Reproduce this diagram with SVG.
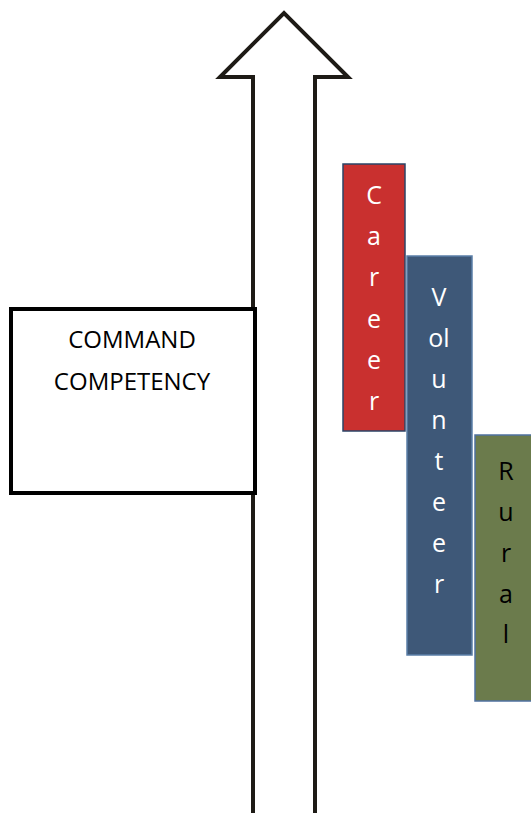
<svg xmlns="http://www.w3.org/2000/svg" width="531" height="813" viewBox="0 0 531 813">
<style>
.lbl{font-family:"Open Sans","Liberation Sans",sans-serif;text-anchor:middle}
.big{font-size:24px}
.bar{font-size:25px}
.w{fill:#ffffff}
.k{fill:#000000}
</style>
<rect width="531" height="813" fill="#ffffff"/>
<g id="connectors">
<path id="arrow" d="M253,815 L253,77 L220,77 L284,13 L348,77 L315,77 L315,815" fill="#ffffff" stroke="#1e1b16" stroke-width="4" stroke-linejoin="miter"/>
</g>
<g id="command">
<rect x="11" y="309" width="244" height="184" fill="#ffffff" stroke="#000000" stroke-width="4"/>
<text class="lbl big k" x="132" y="348">COMMAND</text>
<text class="lbl big k" x="132" y="390">COMPETENCY</text>
</g>
<g id="career">
<rect x="343" y="164" width="62" height="267" fill="#c9302f" stroke="#2b4467" stroke-width="1.5"/>
<text class="lbl bar w" x="374" y="204">C</text>
<text class="lbl bar w" x="374" y="245">a</text>
<text class="lbl bar w" x="374" y="286">r</text>
<text class="lbl bar w" x="374" y="328">e</text>
<text class="lbl bar w" x="374" y="369">e</text>
<text class="lbl bar w" x="374" y="410">r</text>
</g>
<g id="volunteer">
<rect x="407" y="256" width="65" height="399" fill="#3e5878" stroke="#5b7fa8" stroke-width="1.5"/>
<text class="lbl bar w" x="439" y="306">V</text>
<text class="lbl bar w" x="439" y="347">ol</text>
<text class="lbl bar w" x="439" y="388">u</text>
<text class="lbl bar w" x="439" y="429">n</text>
<text class="lbl bar w" x="439" y="470">t</text>
<text class="lbl bar w" x="439" y="511">e</text>
<text class="lbl bar w" x="439" y="552">e</text>
<text class="lbl bar w" x="439" y="593">r</text>
</g>
<g id="rural">
<rect x="475" y="435" width="60" height="266" fill="#6b7b4c" stroke="#4f71a0" stroke-width="1.5"/>
<text class="lbl bar k" x="506" y="480">R</text>
<text class="lbl bar k" x="506" y="521">u</text>
<text class="lbl bar k" x="506" y="562">r</text>
<text class="lbl bar k" x="506" y="603">a</text>
<text class="lbl bar k" x="506" y="643">l</text>
</g>
</svg>
